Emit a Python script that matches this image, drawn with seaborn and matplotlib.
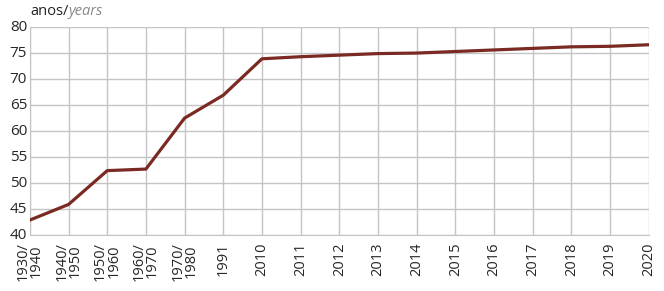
import matplotlib
matplotlib.use("Agg")
import matplotlib.pyplot as plt
import matplotlib.transforms as mtransforms
import seaborn as sns
import pandas as pd

categories = ["1930/\n1940", "1940/\n1950", "1950/\n1960", "1960/\n1970", "1970/\n1980",
              "1991", "2010", "2011", "2012", "2013", "2014", "2015", "2016", "2017",
              "2018", "2019", "2020"]
values = [42.9, 45.9, 52.4, 52.7, 62.5, 66.9, 73.9, 74.3, 74.6, 74.9, 75.0, 75.3, 75.6,
          75.9, 76.2, 76.3, 76.6]
y_ticks = [40, 45, 50, 55, 60, 65, 70, 75, 80]

sns.set_style("white")
plt.rcParams["font.family"] = ["Open Sans", "DejaVu Sans"]

df = pd.DataFrame({"pos": range(len(categories)), "val": values})

fig = plt.figure(figsize=(6.64, 2.91), dpi=100)
ax = fig.add_axes([0.045, 0.192, 0.932, 0.715])
sns.lineplot(data=df, x="pos", y="val", ax=ax, color="#7a2a22", linewidth=2.3, zorder=3)

ax.set_xlim(0, len(categories) - 1)
ax.set_ylim(40, 80)
ax.set_yticks(y_ticks)
ax.set_xticks(range(len(categories)))
ax.set_xticklabels(categories, rotation=90, fontsize=10.5, linespacing=0.85,
                   va="top", ha="center")
ax.set_yticklabels([str(v) for v in y_ticks], fontsize=11)
ax.grid(True, color="#c4c4c4", linewidth=1.0)
ax.set_axisbelow(True)
for s in ["top", "right"]:
    ax.spines[s].set_visible(False)
for s in ["left", "bottom"]:
    ax.spines[s].set_color("#c4c4c4")
ax.tick_params(axis="x", length=0, pad=5)
ax.tick_params(axis="y", length=0, pad=2)
ax.set_xlabel("")
ax.set_ylabel("")

offset = mtransforms.ScaledTranslation(0, 2 / 100, fig.dpi_scale_trans)
for lbl in ax.get_yticklabels():
    lbl.set_transform(lbl.get_transform() + offset)

t1 = fig.text(0.045, 0.935, "anos/", fontsize=10.5, color="#222222", va="bottom", ha="left")
fig.canvas.draw()
bb = t1.get_window_extent(renderer=fig.canvas.get_renderer())
x2 = bb.x1 / fig.bbox.width
fig.text(x2, 0.935, "years", fontsize=10.5, color="#888888", style="italic",
         va="bottom", ha="left")

fig.savefig("out.png", dpi=100)
